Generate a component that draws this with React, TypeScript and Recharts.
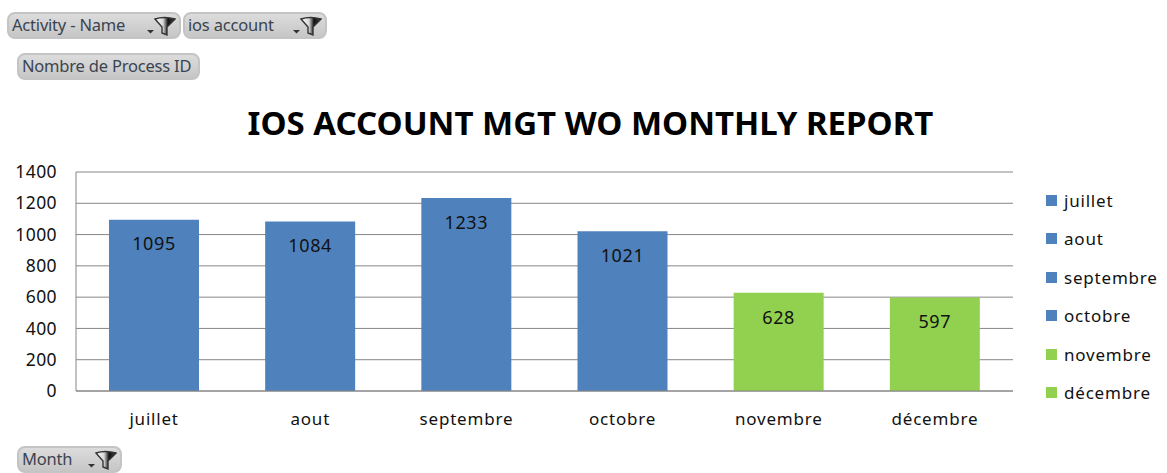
import React from 'react';
import { BarChart, Bar, XAxis, YAxis, CartesianGrid, Cell, LabelList, Legend } from 'recharts';

const months = ['juillet', 'aout', 'septembre', 'octobre', 'novembre', 'décembre'];
const counts = [1095, 1084, 1233, 1021, 628, 597];
const monthColors = ['#4f81bd', '#4f81bd', '#4f81bd', '#4f81bd', '#92d050', '#92d050'];
const yTicks = [0, 200, 400, 600, 800, 1000, 1200, 1400];
const title = 'IOS ACCOUNT MGT WO MONTHLY REPORT';
const data = months.map((month, i) => ({ month, count: counts[i] }));

const FONT = '"Noto Sans", "Open Sans", sans-serif';

const Funnel = ({ x }: { x: number }) => (
  <svg width={32} height={22} style={{ position: 'absolute', left: x, top: 1 }}>
    <path d="M1 15 h7 l-3.5 3.5 z" fill="#333" />
    <defs>
      <linearGradient id={`fg${x}`} x1="0" x2="1" y1="0" y2="0">
        <stop offset="0" stopColor="#ffffff" />
        <stop offset="0.4" stopColor="#d8d8d8" />
        <stop offset="0.65" stopColor="#111111" />
        <stop offset="1" stopColor="#444444" />
      </linearGradient>
    </defs>
    <path d="M9 4 Q18 1 29 4 L21 12 L21 20 L16 18 L16 12 Z" fill={`url(#fg${x})`} stroke="#333" strokeWidth={1.4} />
  </svg>
);

const Chip = ({ left, top, width, label, funnelX }: { left: number; top: number; width: number; label: string; funnelX?: number }) => (
  <div
    style={{
      position: 'absolute', left, top, width, height: 27, boxSizing: 'border-box',
      background: 'linear-gradient(#dcdcdc, #c6c6c6)', border: '2px solid #c4c4c4', borderRadius: 8,
      fontFamily: FONT, fontSize: 16.5, lineHeight: '22px', color: '#3a4450', whiteSpace: 'nowrap',
      letterSpacing: -0.2,
    }}
  >
    <span style={{ position: 'absolute', left: 3, top: 0 }}>{label}</span>
    {funnelX !== undefined && <Funnel x={funnelX} />}
  </div>
);

const MonthLegend = () => (
  <div style={{ position: 'absolute', left: 0, top: 0, width: 121, height: 231 }}>
    {months.map((m, i) => (
      <div key={m} style={{ position: 'absolute', left: 0, top: i * 38.5 - 1, height: 38, display: 'flex', alignItems: 'center', fontFamily: FONT, fontSize: 17, letterSpacing: 0.8, color: '#111', whiteSpace: 'nowrap' }}>
        <span style={{ width: 11, height: 11, background: monthColors[i], marginRight: 7, display: 'inline-block' }} />
        {m}
      </div>
    ))}
  </div>
);

const axisTick = { fontFamily: FONT, fontSize: 17, letterSpacing: 0.8, fill: '#111' };

export default function App() {
  return (
    <div style={{ position: 'absolute', left: 0, top: 0, width: 1167, height: 473, background: '#fff', overflow: 'hidden' }}>
      <BarChart width={1167} height={473} data={data} margin={{ top: 172, right: 154, bottom: 52, left: 0 }} barSize={90}>
        <text x={590.5} y={135} textAnchor="middle" fontFamily={FONT} fontWeight={700} fontSize={33} fill="#000">{title}</text>
        <CartesianGrid vertical={false} stroke="#868686" strokeWidth={1} />
        <XAxis dataKey="month" height={30} axisLine={{ stroke: '#868686' }} tickLine={false} tick={axisTick} tickMargin={16} interval={0} />
        <YAxis width={76} domain={[0, 1400]} ticks={yTicks} axisLine={{ stroke: '#868686' }} tickLine={false} tick={{ ...axisTick, fontSize: 17.5, letterSpacing: 0.4 }} tickMargin={13} interval={0} />
        <Legend content={<MonthLegend />} wrapperStyle={{ left: 1046, top: 182, bottom: 'auto', width: 0, height: 0 }} />
        <Bar dataKey="count" isAnimationActive={false}>
          {data.map((d, i) => <Cell key={d.month} fill={monthColors[i]} />)}
          <LabelList dataKey="count" position="insideTop" offset={18} style={{ fontFamily: FONT, fontSize: 18, letterSpacing: 0.6, fill: '#111' }} />
        </Bar>
      </BarChart>
      <Chip left={7} top={12} width={174} label="Activity - Name" funnelX={137} />
      <Chip left={183} top={12} width={144} label="ios account" funnelX={107} />
      <Chip left={17} top={53} width={183} label="Nombre de Process ID" />
      <Chip left={17} top={446} width={105} label="Month" funnelX={68} />
    </div>
  );
}
